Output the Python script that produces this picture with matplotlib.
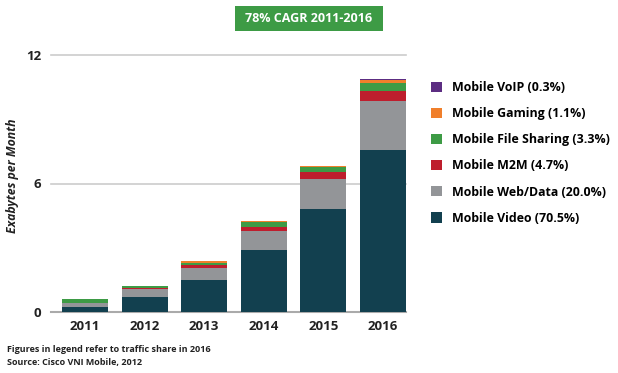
import matplotlib.pyplot as plt
from matplotlib.patches import Rectangle
import numpy as np

plt.rcParams['font.family'] = ['Open Sans', 'DejaVu Sans']

anos = ['2011', '2012', '2013', '2014', '2015', '2016']

# Exabytes por mes
video = [0.23, 0.70, 1.51, 2.89, 4.81, 7.56]
web_data = [0.17, 0.37, 0.53, 0.89, 1.40, 2.29]
m2m = [0.01, 0.07, 0.17, 0.20, 0.33, 0.47]
file_sharing = [0.19, 0.07, 0.10, 0.22, 0.21, 0.37]
gaming = [0.01, 0.02, 0.05, 0.03, 0.07, 0.14]
voip = [0.00, 0.00, 0.01, 0.01, 0.02, 0.03]

rotulos = ['Mobile Video (70.5%)', 'Mobile Web/Data (20.0%)', 'Mobile M2M (4.7%)',
           'Mobile File Sharing (3.3%)', 'Mobile Gaming (1.1%)', 'Mobile VoIP (0.3%)']
cores = ['#12404f', '#939598', '#be1e2d', '#3d9b45', '#f07f2b', '#5c2d82']
series = [video, web_data, m2m, file_sharing, gaming, voip]

fig = plt.figure(figsize=(6.18, 3.73), dpi=100)
ax = fig.add_axes([51 / 618, 1 - 312 / 373, 355 / 618, 257 / 373])

x = np.arange(len(anos))
base = np.zeros(len(anos))
for vals, cor, lab in zip(series, cores, rotulos):
    ax.bar(x, vals, bottom=base, width=0.77, color=cor, label=lab, zorder=3)
    base += np.array(vals)

ax.set_xlim(-0.57, 5.385)
ax.set_ylim(0, 12)
ax.set_yticks([0, 6, 12])
ax.set_yticklabels(['0', '6', '12'], fontsize=9.5, fontweight='bold', color='#222222')
ax.set_xticks(x)
ax.set_xticklabels(anos, fontsize=9.5, fontweight='bold', color='#222222')
ax.tick_params(axis='y', length=0, pad=7)
ax.tick_params(axis='x', length=0, pad=6)
for s in ['top', 'right', 'left']:
    ax.spines[s].set_visible(False)
ax.spines['bottom'].set_color('#aaaaaa')
ax.spines['bottom'].set_linewidth(1.5)
for yv in [6, 12]:
    ax.axhline(yv, color='#cccccc', linewidth=1.2, zorder=1, clip_on=False)

ax.set_ylabel('Exabytes per Month', fontsize=8.8, fontstyle='italic', fontweight='bold',
              color='#222222')
ax.yaxis.set_label_coords(19 / 618, 1 - 176 / 373, transform=fig.transFigure)

h, l = ax.get_legend_handles_labels()
ax.legend(h[::-1], l[::-1], loc='upper left', bbox_to_anchor=(420 / 618, 1 - 70 / 373),
          bbox_transform=fig.transFigure, frameon=False,
          handlelength=0.9, handleheight=0.9, handletextpad=0.8, labelspacing=1.06,
          prop={'weight': 'bold', 'size': 8.9})

fig.patches.append(Rectangle((235 / 618, 1 - 31 / 373), 148 / 618, 25 / 373,
                             transform=fig.transFigure, facecolor='#3d9b45',
                             edgecolor='none'))
fig.text(309 / 618, 1 - 19 / 373, '78% CAGR 2011-2016', ha='center', va='center',
         fontsize=9, fontweight='bold', color='white')

fig.text(7 / 618, 1 - 350 / 373, 'Figures in legend refer to traffic share in 2016',
         fontsize=6.5, fontweight='bold', color='#222222', va='center')
fig.text(7 / 618, 1 - 362 / 373, 'Source: Cisco VNI Mobile, 2012',
         fontsize=6.5, fontweight='bold', color='#222222', va='center')

fig.savefig('out.png', dpi=100)
